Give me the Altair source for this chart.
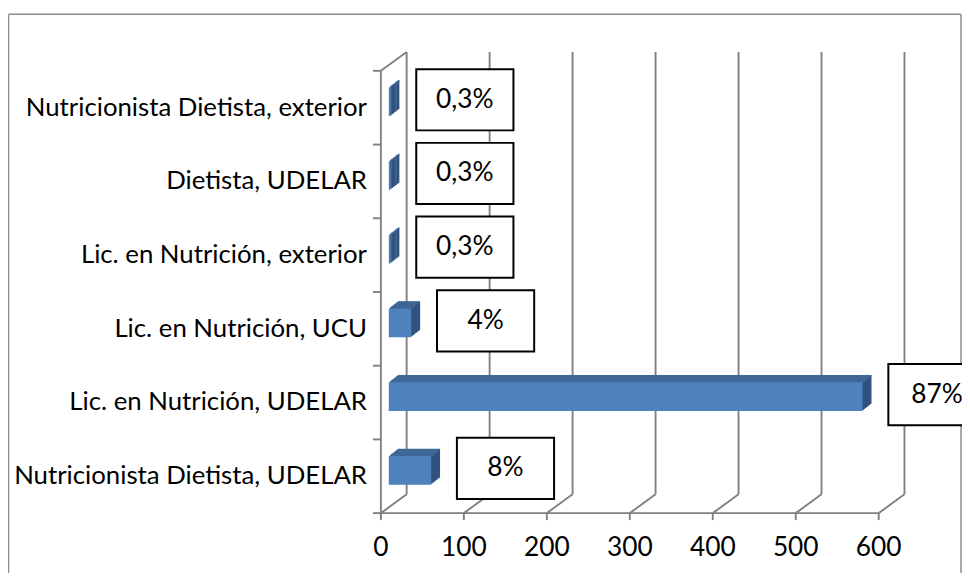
import altair as alt
import pandas as pd

categories = [
    "Nutricionista Dietista, exterior",
    "Dietista, UDELAR",
    "Lic. en Nutrición, exterior",
    "Lic. en Nutrición, UCU",
    "Lic. en Nutrición, UDELAR",
    "Nutricionista Dietista, UDELAR",
]
values = [2, 2, 2, 27, 571, 51]
pct_labels = ["0,3%", "0,3%", "0,3%", "4%", "87%", "8%"]
x_ticks = [0, 100, 200, 300, 400, 500, 600]

df = pd.DataFrame({"cat": categories, "value": values, "pct": pct_labels})
ticks = pd.DataFrame({"t": x_ticks, "lab": [str(t) for t in x_ticks]})
span = pd.DataFrame({"a": [x_ticks[0]], "b": [x_ticks[-1]]})

W, H = 502, 446
DX, DY = 26, -19
FONT = "Lato"
GRID = "#808080"
GW = 1.9
FRONT = "#4F81BD"
TOP = "#3E6797"
SIDE = "#30527F"
BAR_H = 29
FX, FY = 8, -6      # front face offset (bars sit mid-depth)
DEPTH_X, DEPTH_Y = 9, 7
STEPS = 7

xs = alt.Scale(domain=[0, 600], nice=False, zero=False)
ys = alt.Scale(domain=categories, paddingInner=0, paddingOuter=0)
X = lambda f: alt.X(f, scale=xs, axis=None, title=None)
Y = alt.Y("cat:N", scale=ys, axis=None, sort=None, title=None)

layers = []

# outer border (top, left, right)
border = alt.Chart(span).mark_rule(color="#8c8c8c", strokeWidth=1.5)
layers += [
    border.encode(x=alt.value(-375.5), x2=alt.value(585), y=alt.value(-57)),
    border.encode(x=alt.value(-375.5), y=alt.value(-57), y2=alt.value(H + 80)),
    border.encode(x=alt.value(585), y=alt.value(-57), y2=alt.value(H + 80)),
]

# back wall gridlines
layers.append(alt.Chart(ticks).mark_rule(color=GRID, strokeWidth=GW, xOffset=DX).encode(
    x=X("t:Q"), y=alt.value(DY), y2=alt.value(H + DY)))
# floor diagonals
layers.append(alt.Chart(ticks).mark_rule(color=GRID, strokeWidth=GW, x2Offset=DX).encode(
    x=X("t:Q"), x2="t:Q", y=alt.value(H), y2=alt.value(H + DY)))
# front x axis line, ticks, labels
layers.append(alt.Chart(span).mark_rule(color=GRID, strokeWidth=GW).encode(
    x=X("a:Q"), x2="b:Q", y=alt.value(H)))
layers.append(alt.Chart(ticks).mark_rule(color=GRID, strokeWidth=GW).encode(
    x=X("t:Q"), y=alt.value(H), y2=alt.value(H + 7)))
layers.append(alt.Chart(ticks).mark_text(font=FONT, fontSize=26.5, color="black", baseline="middle").encode(
    x=X("t:Q"), y=alt.value(H + 35), text="lab:N"))
# left wall
layers.append(alt.Chart(span).mark_rule(color=GRID, strokeWidth=GW).encode(
    x=alt.value(0), y=alt.value(0), y2=alt.value(H)))
layers.append(alt.Chart(span).mark_rule(color=GRID, strokeWidth=GW).encode(
    x=alt.value(0), x2=alt.value(DX), y=alt.value(0), y2=alt.value(DY)))
layers.append(alt.Chart(df).mark_rule(color=GRID, strokeWidth=GW).encode(
    x=alt.value(-8), x2=alt.value(0),
    y=alt.Y("cat:N", scale=ys, axis=None, sort=None, bandPosition=0)))
layers.append(alt.Chart(span).mark_rule(color=GRID, strokeWidth=GW).encode(
    x=alt.value(-8), x2=alt.value(0), y=alt.value(H)))
layers.append(alt.Chart(df).mark_text(font=FONT, fontSize=26, color="black", align="right", baseline="middle").encode(
    x=alt.value(-14), y=Y, text="cat:N"))

# 3D bars: extrusion (side colour), top face strips, then front face
base = alt.Chart(df).transform_calculate(zero="0")
for k in range(STEPS, 0, -1):
    ox = FX + k * DEPTH_X / STEPS
    oy = FY - k * DEPTH_Y / STEPS
    layers.append(base.mark_bar(size=BAR_H, color=SIDE, xOffset=ox, x2Offset=ox, yOffset=oy).encode(
        x=X("zero:Q"), x2="value:Q", y=Y))
for k in range(STEPS, 0, -1):
    ox = FX + k * DEPTH_X / STEPS
    oy = FY - k * DEPTH_Y / STEPS - BAR_H / 2 + 0.5
    layers.append(base.mark_bar(size=1.6, color=TOP, xOffset=ox, x2Offset=ox, yOffset=oy).encode(
        x=X("zero:Q"), x2="value:Q", y=Y))
layers.append(base.mark_bar(size=BAR_H, color=FRONT, xOffset=FX, x2Offset=FX, yOffset=FY).encode(
    x=X("zero:Q"), x2="value:Q", y=Y))

# data label boxes
layers.append(alt.Chart(df).mark_point(
    shape="M-1,-0.63H1V0.63H-1Z", size=98 * 98, filled=True, fill="white", stroke="black",
    strokeWidth=2, opacity=1, fillOpacity=1, strokeOpacity=1, xOffset=83, yOffset=-8
).encode(x=X("value:Q"), y=Y))
layers.append(alt.Chart(df).mark_text(
    font=FONT, fontSize=26.5, color="black", xOffset=83, yOffset=-8, align="center", baseline="middle"
).encode(x=X("value:Q"), y=Y, text="pct:N"))

chart = alt.layer(*layers).properties(
    width=W, height=H, autosize="none",
    padding={"left": 376, "top": 61, "right": 84, "bottom": 58},
    background="white",
).configure_view(stroke=None)

chart.save("out.html", embed_options={"renderer": "svg", "actions": False})
